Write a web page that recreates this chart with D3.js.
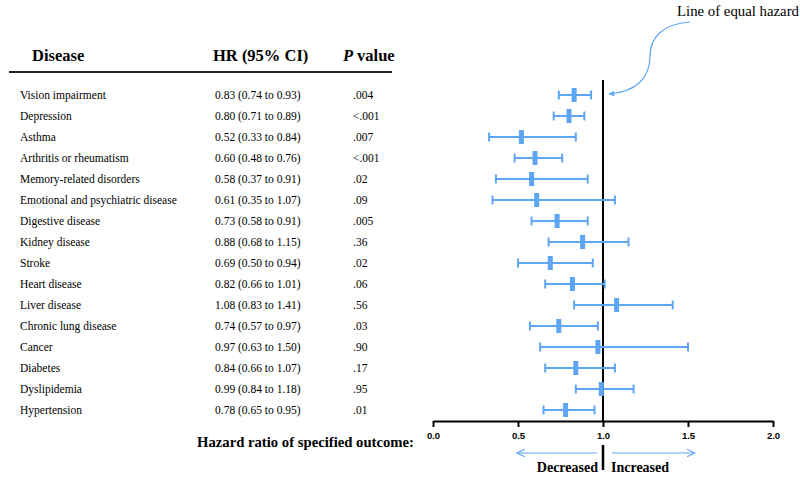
<!DOCTYPE html>
<html>
<head>
<meta charset="utf-8">
<script src="https://cdn.jsdelivr.net/npm/d3@7"></script>
<style>
  body { margin: 0; background: #fff; }
  text { font-family: "Liberation Serif", "Times New Roman", serif; }
</style>
</head>
<body>
<svg id="chart" width="800" height="478"></svg>
<script>
const diseases = ["Vision impairment", "Depression", "Asthma", "Arthritis or rheumatism",
  "Memory-related disorders", "Emotional and psychiatric disease", "Digestive disease",
  "Kidney disease", "Stroke", "Heart disease", "Liver disease", "Chronic lung disease",
  "Cancer", "Diabetes", "Dyslipidemia", "Hypertension"];
const hr = [0.83, 0.80, 0.52, 0.60, 0.58, 0.61, 0.73, 0.88, 0.69, 0.82, 1.08, 0.74, 0.97, 0.84, 0.99, 0.78];
const lower = [0.74, 0.71, 0.33, 0.48, 0.37, 0.35, 0.58, 0.68, 0.50, 0.66, 0.83, 0.57, 0.63, 0.66, 0.84, 0.65];
const upper = [0.93, 0.89, 0.84, 0.76, 0.91, 1.07, 0.91, 1.15, 0.94, 1.01, 1.41, 0.97, 1.50, 1.07, 1.18, 0.95];
const pValues = [".004", "<.001", ".007", "<.001", ".02", ".09", ".005", ".36", ".02", ".06", ".56", ".03", ".90", ".17", ".95", ".01"];
const xTicks = [0, 0.5, 1, 1.5, 2];

const blue = "#5ea6f4";
const svg = d3.select("#chart");

const x = d3.scaleLinear().domain([0, 2]).range([433, 773]);
const y = d3.scalePoint().domain(diseases).range([95, 410]);

// Table header
svg.append("text").attr("x", 32).attr("y", 61)
  .style("font-size", "16.5px").style("font-weight", "bold").text("Disease");
svg.append("text").attr("x", 213).attr("y", 61)
  .style("font-size", "16.5px").style("font-weight", "bold").text("HR (95% CI)");
const ph = svg.append("text").attr("x", 343).attr("y", 61)
  .style("font-size", "16.5px").style("font-weight", "bold");
ph.append("tspan").style("font-style", "italic").text("P");
ph.append("tspan").attr("dx", 4).text("value");

svg.append("line").attr("x1", 9).attr("x2", 392).attr("y1", 72).attr("y2", 72)
  .attr("stroke", "#222").attr("stroke-width", 2);

// Table rows
const rows = svg.append("g").selectAll("g").data(diseases).join("g")
  .attr("transform", d => `translate(0,${y(d) + 4})`);
rows.append("text").attr("x", 20).style("font-size", "11.5px").text(d => d);
rows.append("text").attr("x", 215).style("font-size", "11.5px")
  .text((d, i) => `${hr[i].toFixed(2)} (${lower[i].toFixed(2)} to ${upper[i].toFixed(2)})`);
rows.append("text").attr("x", 353).style("font-size", "11.5px").text((d, i) => pValues[i]);

// Axis
const axis = svg.append("g").attr("transform", "translate(0,421)")
  .call(d3.axisBottom(x).tickValues(xTicks).tickFormat(d3.format(".1f")).tickSize(6).tickSizeOuter(0));
axis.select(".domain").attr("stroke", "#000").attr("stroke-width", 2);
axis.selectAll(".tick line").attr("stroke", "#000").attr("stroke-width", 2);
axis.selectAll(".tick text").attr("dy", "0.9em")
  .style("font-family", "Liberation Sans, Arial, sans-serif")
  .style("font-size", "9.5px").style("font-weight", "bold");

// Line of equal hazard
svg.append("line").attr("x1", x(1)).attr("x2", x(1)).attr("y1", 80).attr("y2", 421)
  .attr("stroke", "#000").attr("stroke-width", 2);

// Error bars
const bars = svg.append("g").selectAll("g").data(diseases).join("g");
bars.append("line")
  .attr("x1", (d, i) => x(lower[i])).attr("x2", (d, i) => x(upper[i]))
  .attr("y1", d => y(d)).attr("y2", d => y(d))
  .attr("stroke", blue).attr("stroke-width", 2);
bars.append("line")
  .attr("x1", (d, i) => x(lower[i])).attr("x2", (d, i) => x(lower[i]))
  .attr("y1", d => y(d) - 4.5).attr("y2", d => y(d) + 4.5)
  .attr("stroke", blue).attr("stroke-width", 2);
bars.append("line")
  .attr("x1", (d, i) => x(upper[i])).attr("x2", (d, i) => x(upper[i]))
  .attr("y1", d => y(d) - 4.5).attr("y2", d => y(d) + 4.5)
  .attr("stroke", blue).attr("stroke-width", 2);
bars.append("rect")
  .attr("x", (d, i) => x(hr[i]) - 2.5).attr("y", d => y(d) - 7)
  .attr("width", 5).attr("height", 14).attr("fill", blue);

// Arrow markers
const defs = svg.append("defs");
defs.append("marker").attr("id", "open").attr("viewBox", "0 0 10 10")
  .attr("refX", 9).attr("refY", 5).attr("markerWidth", 8).attr("markerHeight", 8)
  .attr("orient", "auto-start-reverse")
  .append("path").attr("d", "M1,1 L9,5 L1,9").attr("fill", "none").attr("stroke", blue).attr("stroke-width", 1.2);
defs.append("marker").attr("id", "solid").attr("viewBox", "0 0 10 10")
  .attr("refX", 9).attr("refY", 5).attr("markerWidth", 5).attr("markerHeight", 5)
  .attr("orient", "auto")
  .append("path").attr("d", "M0,0 L10,5 L0,10 Z").attr("fill", blue);

// Annotation
svg.append("text").attr("x", 677).attr("y", 16).style("font-size", "14.8px").text("Line of equal hazard");
svg.append("path")
  .attr("d", "M690,22 C662,24 650,38 650,56 C650,78 636,92 609,94")
  .attr("fill", "none").attr("stroke", blue).attr("stroke-width", 1.2)
  .attr("marker-end", "url(#solid)");

// Decreased / Increased
svg.append("line").attr("x1", x(1)).attr("x2", x(1)).attr("y1", 445).attr("y2", 470)
  .attr("stroke", "#000").attr("stroke-width", 2.5);
svg.append("line").attr("x1", x(1) - 6).attr("x2", x(0.5) - 1).attr("y1", 453).attr("y2", 453)
  .attr("stroke", blue).attr("stroke-width", 1.2).attr("marker-end", "url(#open)");
svg.append("line").attr("x1", x(1) + 9).attr("x2", x(1.54)).attr("y1", 453).attr("y2", 453)
  .attr("stroke", blue).attr("stroke-width", 1.2).attr("marker-end", "url(#open)");
svg.append("text").attr("x", x(1) - 5).attr("y", 472).attr("text-anchor", "end")
  .style("font-size", "14px").style("font-weight", "bold").text("Decreased");
svg.append("text").attr("x", x(1) + 8).attr("y", 472)
  .style("font-size", "14px").style("font-weight", "bold").text("Increased");

svg.append("text").attr("x", 197).attr("y", 447)
  .style("font-size", "14.7px").style("font-weight", "bold").text("Hazard ratio of specified outcome:");
</script>
</body>
</html>
